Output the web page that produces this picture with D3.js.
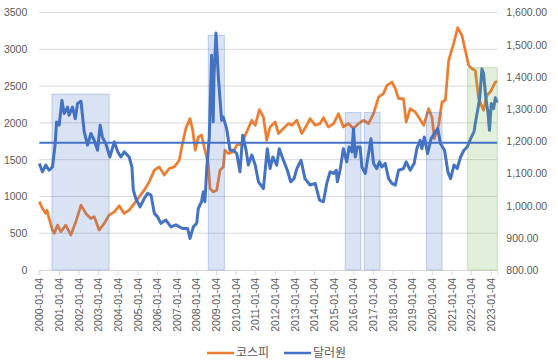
<!DOCTYPE html>
<html><head><meta charset="utf-8">
<script src="https://cdn.jsdelivr.net/npm/d3@7"></script>
<style>
body{margin:0;background:#fff;}
svg{display:block;font-family:"Liberation Sans",Arial,sans-serif;}
</style></head>
<body><svg id="c" width="558" height="360"></svg>
<script>
// ---- data ----
const kospiDates = ["2000-01-04","2000-03-02","2000-05-03","2000-05-25","2000-07-04","2000-09-05","2000-10-08","2000-12-09",
"2001-02-07","2001-05-10","2001-08-14","2001-11-14","2002-02-18","2002-05-18","2002-08-21","2002-10-22",
"2003-01-22","2003-04-26","2003-07-26","2003-10-30","2004-01-30","2004-05-03","2004-08-03","2004-11-07",
"2005-02-07","2005-05-10","2005-08-10","2005-11-14","2006-02-14","2006-05-18","2006-08-18","2006-11-21",
"2007-02-21","2007-04-22","2007-06-23","2007-09-09","2007-10-30","2007-12-16","2008-02-10","2008-04-11",
"2008-06-13","2008-08-14","2008-09-16","2008-11-14","2009-01-19","2009-03-20","2009-05-21","2009-06-20",
"2009-08-21","2009-11-25","2010-01-26","2010-04-30","2010-07-30","2010-11-03","2011-01-05","2011-03-24",
"2011-06-06","2011-08-07","2011-10-08","2012-01-12","2012-03-13","2012-06-13","2012-09-13","2012-11-18",
"2013-02-18","2013-05-21","2013-08-21","2013-10-22","2014-01-26","2014-04-26","2014-06-27","2014-09-27",
"2015-01-04","2015-04-04","2015-07-04","2015-10-04","2016-01-08","2016-04-11","2016-07-11","2016-10-15",
"2017-01-15","2017-04-19","2017-07-19","2017-09-23","2017-12-23","2018-02-25","2018-04-26","2018-07-26",
"2018-09-16","2018-11-28","2019-03-02","2019-05-03","2019-08-07","2019-11-07","2020-01-08","2020-02-21",
"2020-05-10","2020-07-13","2020-09-13","2020-11-14","2021-02-14","2021-05-01","2021-07-19","2021-09-20",
"2021-11-21","2022-01-22","2022-03-24","2022-05-25","2022-08-25","2022-10-26","2022-12-28","2023-04-01","2023-05-05"];
const kospiValues = [930,837,769,814,701,543,498,610,
520,610,475,655,882,769,701,723,
543,633,746,791,873,769,814,905,
995,1085,1198,1357,1402,1289,1380,1402,
1492,1719,1922,2058,1899,1628,1809,1832,
1628,1447,1108,1062,1085,1357,1402,1628,
1583,1605,1696,1719,1876,2035,1967,2180,
2080,1764,1944,2012,1855,1922,1990,1967,
2035,1855,1967,2058,1967,1990,2071,1944,
1990,2125,1944,1990,1922,1990,2035,1990,
2125,2351,2397,2510,2555,2465,2329,2329,
2012,2193,2148,2080,1967,2193,2080,1787,
1967,2283,2306,2849,3076,3293,3188,2985,
2781,2736,2713,2329,2171,2374,2419,2555,2560];

const wonDates = ["2000-01-04","2000-03-02","2000-05-03","2000-07-04","2000-09-05","2000-10-26","2000-11-21","2001-01-08",
"2001-02-28","2001-04-11","2001-06-13","2001-07-11","2001-09-13","2001-11-03","2001-12-16","2002-02-18",
"2002-04-19","2002-06-20","2002-08-21","2002-10-22","2002-12-23","2003-02-10","2003-03-24","2003-05-25",
"2003-08-10","2003-10-30","2004-01-04","2004-03-02","2004-05-03","2004-08-03","2004-09-23","2004-10-19",
"2004-12-05","2005-02-21","2005-05-10","2005-07-11","2005-09-13","2005-11-14","2006-01-15","2006-03-17",
"2006-06-17","2006-09-20","2006-12-20","2007-04-22","2007-07-26","2007-09-09","2007-11-10","2008-01-12",
"2008-02-10","2008-04-11","2008-05-14","2008-06-13","2008-07-15","2008-09-02","2008-10-15","2008-11-14",
"2008-11-28","2009-01-05","2009-02-18","2009-04-19","2009-05-21","2009-07-22","2009-09-23","2009-11-25",
"2010-01-26","2010-03-27","2010-05-18","2010-07-19","2010-08-29","2010-11-03","2011-01-05","2011-03-06",
"2011-06-06","2011-08-18","2011-10-08","2011-11-28","2012-02-10","2012-03-27","2012-06-13","2012-08-25",
"2012-10-26","2012-12-28","2013-02-18","2013-05-07","2013-07-19","2013-10-22","2014-01-26","2014-04-15",
"2014-06-27","2014-08-29","2014-10-30","2015-01-04","2015-02-21","2015-03-14","2015-05-03","2015-07-04",
"2015-09-05","2015-10-19","2015-12-09","2016-01-08","2016-02-10","2016-03-20","2016-05-10","2016-06-13",
"2016-08-14","2016-10-15","2016-11-28","2017-01-15","2017-03-17","2017-05-07","2017-06-20","2017-08-21",
"2017-10-22","2017-12-23","2018-02-25","2018-04-26","2018-07-26","2018-09-16","2018-11-28","2019-02-10",
"2019-04-01","2019-06-02","2019-07-04","2019-08-18","2019-10-19","2019-12-23","2020-03-13","2020-04-26",
"2020-06-13","2020-08-29","2020-10-30","2020-12-20","2021-02-21","2021-04-22","2021-06-23","2021-08-25",
"2021-10-26","2021-12-28","2022-02-28","2022-03-24","2022-05-07","2022-06-13","2022-07-26","2022-08-25",
"2022-10-08","2022-11-14","2022-12-13","2023-01-15","2023-02-28","2023-04-01","2023-05-05"];
const wonValues = [1131,1105,1126,1110,1120,1193,1260,1250,
1327,1286,1306,1281,1306,1270,1317,1324,
1229,1188,1224,1203,1172,1250,1213,1193,
1151,1198,1167,1151,1167,1151,1120,1048,
1022,996,1022,1038,1033,976,965,945,
955,934,940,929,929,898,934,945,
991,1012,1043,1012,1110,1213,1467,1260,
1399,1536,1399,1265,1275,1239,1172,1172,
1162,1105,1219,1172,1126,1157,1126,1074,
1053,1177,1115,1151,1126,1177,1141,1110,
1074,1084,1115,1141,1084,1064,1069,1017,
1012,1069,1105,1100,1110,1074,1110,1177,
1136,1182,1167,1239,1151,1182,1182,1120,
1100,1162,1208,1131,1115,1136,1120,1131,
1084,1069,1064,1110,1115,1136,1110,1131,
1177,1203,1177,1213,1162,1208,1229,1239,
1193,1172,1105,1084,1126,1115,1151,1172,
1182,1208,1229,1255,1296,1332,1425,1410,
1332,1291,1234,1317,1301,1335,1320];

const avgWon = 1195;
const shadeStart = ["2000-08-27","2008-08-14","2015-08-07","2016-07-27","2019-09-28","2021-11-03"];
const shadeEnd   = ["2003-07-26","2009-06-10","2016-05-27","2017-05-16","2020-07-13","2023-05-08"];
const shadeTop   = [2390,3190,2140,2140,2140,2750];
const shadeKind  = ["blue","blue","blue","blue","blue","green"];

const leftTicks = [0,500,1000,1500,2000,2500,3000,3500];
const rightTicks = [800,900,1000,1100,1200,1300,1400,1500,1600];
const yearTicks = d3.range(2000,2024).map(y => y + "-01-04");
const seriesNames = ["코스피","달러원"];
const seriesColors = ["#ED7D31","#4472C4"];

// ---- chart ----
const parse = d3.utcParse("%Y-%m-%d");
const svg = d3.select("#c");
const L = 39.3, R = 497.3, T = 12.5, B = 270;
const x = d3.scaleUtc().domain([parse("2000-01-04"), parse("2023-05-08")]).range([L, R]);
const yL = d3.scaleLinear().domain([0,3500]).range([B,T]);
const yR = d3.scaleLinear().domain([800,1600]).range([B,T]);

// gridlines
svg.append("g").selectAll("line").data(leftTicks.slice(1)).join("line")
  .attr("x1",L).attr("x2",R).attr("y1",d=>yL(d)).attr("y2",d=>yL(d))
  .attr("stroke","#D9D9D9").attr("stroke-width",1);

// left axis
const gl = svg.append("g").attr("transform",`translate(${L},0)`)
  .call(d3.axisLeft(yL).tickValues(leftTicks).tickSize(0).tickPadding(12).tickFormat(d3.format("d")));
gl.select(".domain").remove();
gl.selectAll("text").attr("fill","#595959").style("font-size","10.5px").style("font-family","Liberation Sans, Arial");

// right axis
const gr = svg.append("g").attr("transform",`translate(${R},0)`)
  .call(d3.axisRight(yR).tickValues(rightTicks).tickSize(0).tickPadding(9).tickFormat(d3.format(",.2f")));
gr.select(".domain").remove();
gr.selectAll("text").attr("fill","#595959").style("font-size","10.5px").style("font-family","Liberation Sans, Arial");

// x axis
const gx = svg.append("g").attr("transform",`translate(0,${B})`)
  .call(d3.axisBottom(x).tickValues(yearTicks.map(parse)).tickSize(5).tickFormat(d3.utcFormat("%Y-%m-%d")));
gx.select(".domain").attr("stroke","#D9D9D9");
gx.selectAll(".tick line").attr("stroke","#D9D9D9");
gx.selectAll("text").attr("fill","#595959").style("font-size","10.5px").style("font-family","Liberation Sans, Arial")
  .attr("transform","rotate(-90)").attr("text-anchor","end").attr("x",-8).attr("y",0).attr("dy","0.35em");

const line = (dates, vals, ys) => d3.line().x((d,i)=>x(parse(dates[i]))).y((d,i)=>ys(vals[i]))(vals);

svg.append("path").attr("d", line(kospiDates,kospiValues,yL)).attr("fill","none")
  .attr("stroke",seriesColors[0]).attr("stroke-width",2.75).attr("stroke-linejoin","round");
svg.append("path").attr("d", line(wonDates,wonValues,yR)).attr("fill","none")
  .attr("stroke",seriesColors[1]).attr("stroke-width",3).attr("stroke-linejoin","round");

// shaded periods (drawn over lines, translucent)
svg.append("g").selectAll("rect").data(shadeTop).join("rect")
  .attr("x",(d,i)=>x(parse(shadeStart[i])))
  .attr("width",(d,i)=>x(parse(shadeEnd[i]))-x(parse(shadeStart[i])))
  .attr("y",d=>yL(d)).attr("height",d=>B-yL(d))
  .attr("fill",(d,i)=>shadeKind[i]==="green"?"#70AD47":"#4472C4").attr("fill-opacity",0.2)
  .attr("stroke",(d,i)=>shadeKind[i]==="green"?"#70AD47":"#4472C4").attr("stroke-opacity",0.3).attr("stroke-width",1);

// average line
svg.append("line").attr("x1",L).attr("x2",R).attr("y1",yR(avgWon)).attr("y2",yR(avgWon))
  .attr("stroke","#4472C4").attr("stroke-width",2);

// legend
const lg = svg.append("g").attr("transform","translate(207,353)");
const lx = [0,77];
seriesNames.forEach((n,i)=>{
  lg.append("line").attr("x1",lx[i]).attr("x2",lx[i]+27).attr("y1",0).attr("y2",0)
    .attr("stroke",seriesColors[i]).attr("stroke-width",2.5);
  lg.append("text").attr("x",lx[i]+29).attr("y",0).attr("dy","0.36em").text(n)
    .attr("fill","#595959").style("font-size","12px").style("font-family","Noto Sans CJK KR");
});
</script></body></html>
